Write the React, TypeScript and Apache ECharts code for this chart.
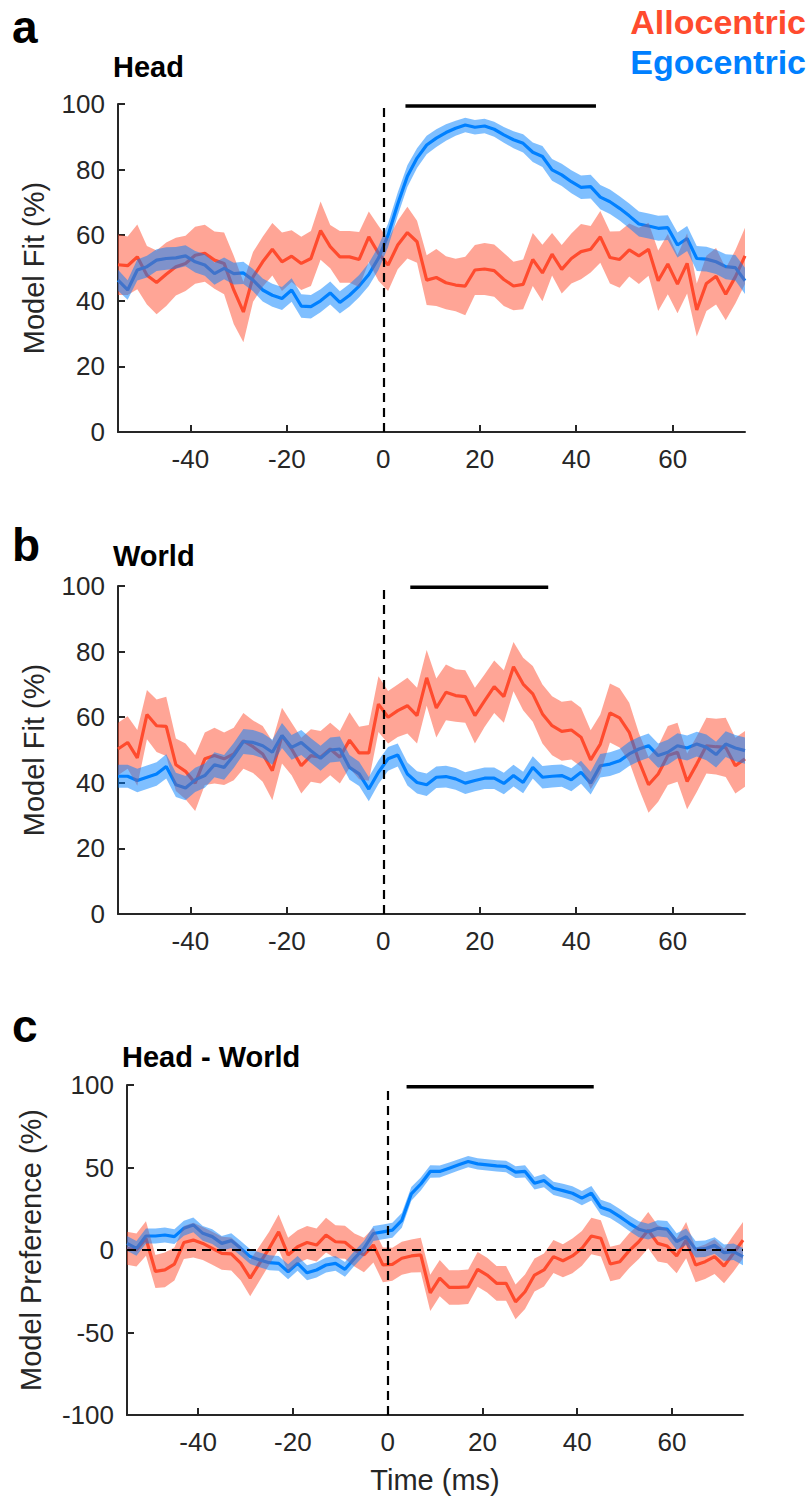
import React, { useEffect, useRef } from "react";
import * as echarts from "echarts";

const times = [
  -55, -53, -51, -49, -47, -45, -43, -41, -39, -37, -35,
  -33, -31, -29, -27, -25, -23, -21, -19, -17, -15, -13,
  -11, -9, -7, -5, -3, -1, 1, 3, 5, 7, 9,
  11, 13, 15, 17, 19, 21, 23, 25, 27, 29, 31,
  33, 35, 37, 39, 41, 43, 45, 47, 49, 51, 53,
  55, 57, 59, 61, 63, 65, 67, 69, 71, 73, 75,
];

// Panel a: Head
const headAllo = [
  51, 50.7, 53.4, 47.8, 45.6, 48.1, 50.4, 51.4, 53.9, 54.5, 52.4,
  51.4, 43.3, 36.6, 47.3, 51.9, 55.7, 51.9, 53.6, 51.4, 52.9, 61.4,
  56.5, 53.4, 53.4, 52.6, 59.5, 54.5, 50.9, 57, 60.8, 58, 46.3,
  47.1, 45.5, 44.8, 44.5, 49.4, 49.7, 49.2, 46.5, 44.5, 45, 52.6,
  48.5, 54.2, 49.6, 52.9, 55, 55.7, 59.5, 53.2, 52.6, 55.5, 53.7,
  55.7, 46.1, 51.2, 45.1, 51.4, 37.2, 45.3, 47.5, 42, 47.3, 53.7,
];
const headAlloErr = [
  9.2, 8.9, 9.9, 8.9, 9.7, 9.7, 8.8, 8.4, 8.7, 8.7, 8.7,
  9.4, 10.4, 9.2, 7.6, 7.6, 8, 8.9, 7.9, 8.1, 8.4, 8.9,
  6.6, 7.9, 7.9, 8.4, 7.7, 8.4, 7.9, 7.4, 7.9, 6.4, 7.6,
  8.7, 8.1, 8, 8.9, 7.6, 7.9, 8, 8.1, 7.4, 7.6, 8.1,
  8.6, 6.5, 7.4, 7.6, 8.4, 7.1, 7.9, 7.9, 8.6, 8.1, 8.6,
  8.1, 9.2, 9.2, 8.9, 9.2, 8.1, 8.4, 8.6, 7.9, 8.1, 8.6,
];
const headEgo = [
  46.3, 43.3, 49.4, 50.4, 52.4, 52.9, 53.1, 53.7, 51.9, 50.9, 48.3,
  49.9, 48.3, 48.5, 46.3, 43.3, 41.7, 40.7, 43.3, 38.4, 38.2, 40,
  42.4, 39.5, 41.7, 44.5, 48, 53, 60, 69.5, 78, 83.5, 87.5,
  89.6, 91.3, 92.6, 93.6, 92.9, 93.3, 92.3, 90.6, 89.1, 88, 85.3,
  84, 79.9, 78.4, 76.3, 74.6, 74.8, 71.6, 70.2, 68.2, 65.9, 63.4,
  62.8, 62.1, 62.3, 57, 59, 52.9, 52.7, 51.9, 50.4, 50.1, 46.1,
];
const headEgoErr = [
  3.2, 3, 3.2, 3.3, 3.3, 3.4, 3.3, 3.2, 3.3, 3.3, 3.4,
  3.3, 3.3, 3.4, 3.4, 3.5, 3.5, 3.5, 3.6, 3.6, 3.6, 3.5,
  3.5, 3.4, 3.4, 3.4, 3.5, 3.6, 3.6, 3.5, 3.3, 3, 2.8,
  2.7, 2.5, 2.3, 2.2, 2.2, 2.2, 2.3, 2.4, 2.6, 2.8, 3,
  3.2, 3.3, 3.4, 3.5, 3.6, 3.6, 3.7, 3.7, 3.7, 3.8, 3.8,
  3.8, 3.8, 3.8, 3.8, 3.8, 3.8, 3.8, 3.7, 3.8, 3.9, 4,
];

// Panel b: World
const worldAllo = [
  50.3, 52.3, 47.6, 60.8, 57.4, 57.2, 45.5, 43.5, 39.9, 47.3, 48.3,
  47.3, 48.8, 52.8, 51, 48.8, 43.7, 54.4, 50.3, 45.2, 48.3, 47.8,
  50.3, 47.8, 53, 49.1, 49.1, 64, 60, 62, 63.5, 60.5, 72,
  62.8, 67.6, 66.6, 66.3, 60.5, 65, 69.3, 66.3, 75.4, 70.1, 67.1,
  61, 57.4, 55.7, 56.1, 53.9, 47, 51.8, 61.3, 59.8, 55.4, 46.7,
  39.4, 42.7, 48.3, 49.3, 40.4, 45.7, 51.3, 51, 50.8, 45.2, 47.3,
];
const worldAlloErr = [
  8, 8, 8.5, 7.5, 8, 9, 8, 8.5, 8.5, 8, 8.5,
  8, 8, 8.5, 8, 8.5, 9, 8.5, 8, 8.5, 8, 8,
  8, 8, 8.5, 8, 8.5, 8.5, 8, 8, 8.5, 8.5, 8.5,
  9, 8.5, 8, 8, 8.5, 8, 8, 8, 7.5, 8, 8.5,
  9, 9, 9, 9, 9, 9, 9, 9, 9, 9, 8.5,
  8.5, 8.5, 9, 9, 8.5, 8.5, 8.5, 8.5, 9, 8.5, 8.5,
];
const worldEgo = [
  42, 42, 40.7, 41.7, 42.7, 45, 39.4, 38.4, 40.9, 42.2, 45.5,
  44.7, 48.3, 52.6, 52.3, 51.3, 49.3, 54.4, 50.8, 52.3, 49.8, 47.5,
  50, 50.3, 44.7, 42.7, 38.1, 43.2, 47.3, 48.5, 42.7, 40.1, 39.4,
  41.7, 41.9, 41.2, 39.9, 40.7, 41.4, 41.4, 39.8, 42.2, 40.1, 44.7,
  41.7, 42, 42.2, 40.9, 43.2, 39.9, 45.2, 45.7, 46.7, 48.8, 50.3,
  51.3, 48.3, 49.3, 51.3, 50.6, 51.8, 50.8, 48.6, 51.8, 50.6, 49.8,
];
const worldEgoErr = [
  3.5, 3.5, 3.6, 3.6, 3.6, 3.7, 3.7, 3.7, 3.7, 3.7, 3.8,
  3.8, 3.8, 3.8, 3.8, 3.8, 3.8, 3.8, 3.8, 3.8, 3.8, 3.8,
  3.8, 3.8, 3.8, 3.7, 3.7, 3.6, 3.6, 3.5, 3.5, 3.4, 3.4,
  3.3, 3.3, 3.3, 3.3, 3.3, 3.3, 3.3, 3.3, 3.3, 3.3, 3.4,
  3.4, 3.4, 3.4, 3.5, 3.5, 3.5, 3.6, 3.6, 3.6, 3.7, 3.7,
  3.7, 3.7, 3.8, 3.8, 3.8, 3.8, 3.9, 3.9, 3.9, 4, 4,
];

// Panel c: Head - World
const diffAllo = [
  1, 0, 7, -13, -12, -8.5, 4.5, 6, 4, 1, -2,
  -2.4, -8, -17, -8, 1, 11, -3, 2, 4.5, 3, 9,
  5, 4.7, 0, -3, 3, -9, -8.7, -5, -3.6, -3, -26,
  -17, -22.7, -22.7, -22.3, -11.7, -15.2, -20.2, -20.2, -31.4, -25.3, -15.2,
  -12.1, -4, -6.5, -3.6, 1, 8.5, 7.1, -8.5, -7.1, -0.4, 5,
  12, 4, 2.4, -3.6, 6, -9.1, -7.1, -4, -9.7, -2, 6,
];
const diffAlloErr = [
  10, 10, 10.5, 10, 10.5, 10, 10, 10.5, 10, 10, 10,
  10, 10.5, 11, 10.5, 10, 10.5, 10.5, 10, 10, 10, 10.5,
  10, 10, 10, 10.5, 10.5, 10.5, 10, 10, 10, 10.5, 11,
  11, 10.5, 10.5, 10.5, 10.5, 10.5, 10.5, 10.5, 10.5, 10.5, 10,
  10, 10, 10, 10.5, 10.5, 11, 11, 10.5, 10.5, 10.5, 10.5,
  11, 11, 10.5, 10.5, 11, 10.5, 10.5, 10.5, 10.5, 11, 11,
];
const diffEgo = [
  4, 1, 8.5, 8.5, 9.1, 8.1, 13.2, 15.2, 10.1, 8.1, 4,
  5.7, 1, -4, -6, -7.7, -8.1, -13.2, -8.1, -13.8, -12.1, -9.1,
  -8.1, -11.7, -5.1, 1, 10, 11, 12, 18, 34, 40, 47.6,
  47.6, 49.6, 51.6, 53.6, 52.2, 51.6, 51, 50.6, 47.2, 47.6, 40.5,
  42.1, 37.4, 36, 34.4, 31.4, 34.4, 25.9, 23.9, 20.2, 16.2, 12.6,
  11.1, 13.2, 12.6, 5.1, 8.1, 0.4, 0.8, 2.8, -1.6, -1, -4,
];
const diffEgoErr = [
  4.5, 4.5, 4.5, 4.5, 4.5, 4.5, 4.5, 4.5, 4.5, 4.5, 4.5,
  4.5, 4.5, 4.5, 4.5, 4.5, 4.5, 4.5, 4.5, 4.5, 4.5, 4.5,
  4.5, 4.5, 4.5, 4.5, 4.5, 4.5, 4.5, 4.5, 4.2, 4, 3.8,
  3.6, 3.5, 3.4, 3.4, 3.4, 3.4, 3.4, 3.5, 3.6, 3.7, 3.8,
  4, 4, 4.2, 4.2, 4.3, 4.4, 4.5, 4.6, 4.6, 4.7, 4.8,
  4.8, 4.9, 5, 5, 5, 5, 5, 5, 5, 5, 5.2,
];

// significance bars [start, end, level]
const sigHead = [4.6, 44.1, 99.4];
const sigWorld = [5.6, 34.2, 99.6];
const sigDiff = [4, 43.5, 99];

const xTicks = [-40, -20, 0, 20, 40, 60];
const FONT = "'Liberation Sans', Arial, Helvetica, sans-serif";
const AXIS = "#262626";
const RED = "#ff4b2e";
const BLUE = "#0080ff";
const RED_BAND = "rgba(255, 75, 46, 0.5)";
const BLUE_BAND = "rgba(0, 128, 255, 0.5)";

function pairs(vals: number[]) {
  return times.map((t, i) => [t, vals[i]]);
}

function band(idx: number, mean: number[], err: number[], color: string, z: number) {
  const rows = times.map((t, i) => [t, mean[i] - err[i], mean[i] + err[i]]);
  return {
    type: "custom", xAxisIndex: idx, yAxisIndex: idx, silent: true, z,
    data: rows,
    encode: { x: 0, y: [1, 2] },
    renderItem: (params: any, api: any) => {
      if (params.dataIndex !== 0) return null;
      const up = rows.map((r) => api.coord([r[0], r[2]]));
      const dn = rows.map((r) => api.coord([r[0], r[1]])).reverse();
      return {
        type: "polygon",
        shape: { points: up.concat(dn) },
        style: { fill: color, stroke: "none" },
      };
    },
  };
}

function meanLine(idx: number, mean: number[], color: string) {
  return {
    type: "line", xAxisIndex: idx, yAxisIndex: idx, data: pairs(mean), symbol: "none",
    lineStyle: { color, width: 3.2 }, z: 2, silent: true,
  };
}

function sigSeries(idx: number, sig: number[], horizontalZero: boolean) {
  const ml: any[] = [{ xAxis: 0 }];
  if (horizontalZero) ml.push({ yAxis: 0 });
  return {
    type: "line", xAxisIndex: idx, yAxisIndex: idx,
    data: [[sig[0], sig[2]], [sig[1], sig[2]]],
    symbol: "none", lineStyle: { color: "#000", width: 3.5 }, z: 10, silent: true,
    markLine: {
      symbol: "none", silent: true, label: { show: false },
      lineStyle: { color: "#000", width: 2.2, type: [9, 6] },
      data: ml,
    },
  };
}

function xAxis(idx: number, name?: string) {
  return {
    gridIndex: idx, type: "value", min: -55, max: 75,
    axisLine: { show: true, onZero: false, lineStyle: { color: AXIS, width: 2 } },
    axisTick: { show: true, inside: true, length: 7, customValues: xTicks, lineStyle: { color: AXIS, width: 2 } },
    axisLabel: { customValues: xTicks, fontSize: 26, color: AXIS, fontFamily: FONT, margin: 14 },
    splitLine: { show: false },
    name: name || "", nameLocation: "middle", nameGap: 50,
    nameTextStyle: { fontSize: 29, color: AXIS, fontFamily: FONT },
  };
}

function yAxis(idx: number, min: number, max: number, interval: number, name: string, gap: number) {
  return {
    gridIndex: idx, type: "value", min, max, interval,
    axisLine: { show: true, onZero: false, lineStyle: { color: AXIS, width: 2 } },
    axisTick: { show: true, inside: true, length: 7, lineStyle: { color: AXIS, width: 2 } },
    axisLabel: { fontSize: 26, color: AXIS, fontFamily: FONT, margin: 13 },
    splitLine: { show: false },
    name, nameLocation: "middle", nameGap: gap,
    nameTextStyle: { fontSize: 29, color: AXIS, fontFamily: FONT },
  };
}

function txt(text: string, x: number, y: number, size: number, color: string, align = "left") {
  return {
    type: "text", x, y, silent: true,
    style: { text, fill: color, font: `bold ${size}px ${FONT}`, align, verticalAlign: "middle" },
  };
}

export default function App() {
  const ref = useRef<HTMLDivElement>(null);
  useEffect(() => {
    document.body.style.margin = "0";
    const chart = echarts.init(ref.current!, null, { renderer: "svg" });
    chart.setOption({
      animation: false,
      backgroundColor: "#ffffff",
      grid: [
        { left: 118, top: 104, width: 627, height: 328 },
        { left: 118, top: 586, width: 627, height: 328 },
        { left: 127, top: 1085, width: 616, height: 330 },
      ],
      xAxis: [xAxis(0), xAxis(1), xAxis(2, "Time (ms)")],
      yAxis: [
        yAxis(0, 0, 100, 20, "Model Fit (%)", 70),
        yAxis(1, 0, 100, 20, "Model Fit (%)", 70),
        yAxis(2, -100, 100, 50, "Model Preference (%)", 82),
      ],
      series: [
        meanLine(0, headAllo, RED),
        meanLine(0, headEgo, BLUE),
        band(0, headAllo, headAlloErr, RED_BAND, 3),
        band(0, headEgo, headEgoErr, BLUE_BAND, 4),
        sigSeries(0, sigHead, false),

        meanLine(1, worldAllo, RED),
        meanLine(1, worldEgo, BLUE),
        band(1, worldAllo, worldAlloErr, RED_BAND, 3),
        band(1, worldEgo, worldEgoErr, BLUE_BAND, 4),
        sigSeries(1, sigWorld, false),

        meanLine(2, diffAllo, RED),
        meanLine(2, diffEgo, BLUE),
        band(2, diffAllo, diffAlloErr, RED_BAND, 3),
        band(2, diffEgo, diffEgoErr, BLUE_BAND, 4),
        sigSeries(2, sigDiff, true),
      ],
      graphic: [
        txt("a", 12, 27, 46, "#000"),
        txt("Head", 113, 67, 29, "#000"),
        txt("Allocentric", 806, 22, 34, RED, "right"),
        txt("Egocentric", 806, 62, 34, BLUE, "right"),
        txt("b", 12, 545, 46, "#000"),
        txt("World", 113, 556, 29, "#000"),
        txt("c", 12, 1026, 46, "#000"),
        txt("Head - World", 122, 1057, 29, "#000"),
      ],
    });
    return () => chart.dispose();
  }, []);
  return <div ref={ref} style={{ width: 812, height: 1500 }} />;
}
